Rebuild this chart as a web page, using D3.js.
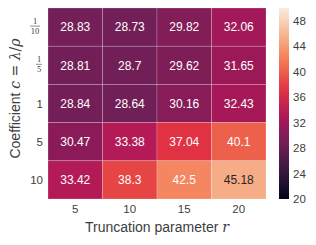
<!DOCTYPE html>
<html>
<head>
<meta charset="utf-8">
<script src="https://cdn.jsdelivr.net/npm/d3@7"></script>
<style>
  body { margin: 0; background: #fff; }
  text { font-family: "Liberation Sans", Arial, sans-serif; }
</style>
</head>
<body>
<div id="chart"></div>
<script>
// data
const rowKeys = ["1/10", "1/5", "1", "5", "10"];
const colLabels = ["5", "10", "15", "20"];
const values = [
  [28.83, 28.73, 29.82, 32.06],
  [28.81, 28.70, 29.62, 31.65],
  [28.84, 28.64, 30.16, 32.43],
  [30.47, 33.38, 37.04, 40.10],
  [33.42, 38.30, 42.50, 45.18]
];
const cbTicks = [20, 24, 28, 32, 36, 40, 44, 48];

const width = 316, height = 245;
const hm = { left: 48, top: 8, right: 266, bottom: 199 };
const cb = { left: 279, right: 289 };

const svg = d3.select("#chart").append("svg")
    .attr("width", width)
    .attr("height", height);

// rocket colormap (seaborn)
const rocketStops = ["#03051a", "#35193e", "#701f57", "#ad1759", "#e13342", "#f37651", "#f6b48f", "#faebdd"];
const rocket = d3.scaleLinear()
    .domain(rocketStops.map((d, i) => i / (rocketStops.length - 1)))
    .range(rocketStops)
    .interpolate(d3.interpolateRgb);
const vmin = 20, vmax = 50;
const color = v => rocket((v - vmin) / (vmax - vmin));

const x = d3.scaleBand().domain(colLabels).range([hm.left, hm.right]);
const y = d3.scaleBand().domain(rowKeys).range([hm.top, hm.bottom]);

// cells
const cells = [];
values.forEach((row, i) => row.forEach((v, j) => cells.push({ r: rowKeys[i], c: colLabels[j], v })));

svg.append("g").selectAll("rect")
    .data(cells)
    .enter().append("rect")
    .attr("x", d => x(d.c))
    .attr("y", d => y(d.r))
    .attr("width", x.bandwidth())
    .attr("height", y.bandwidth())
    .attr("fill", d => color(d.v))
    .attr("stroke", "rgba(255,255,255,0.35)")
    .attr("stroke-width", 0.6);

function lum(c) {
    const rgb = d3.rgb(c);
    const f = u => { u /= 255; return u <= 0.03928 ? u / 12.92 : Math.pow((u + 0.055) / 1.055, 2.4); };
    return 0.2126 * f(rgb.r) + 0.7152 * f(rgb.g) + 0.0722 * f(rgb.b);
}

svg.append("g").selectAll("text")
    .data(cells)
    .enter().append("text")
    .attr("x", d => x(d.c) + x.bandwidth() / 2)
    .attr("y", d => y(d.r) + y.bandwidth() / 2)
    .attr("text-anchor", "middle")
    .attr("dy", "0.36em")
    .attr("font-size", 12)
    .attr("fill", d => lum(color(d.v)) > 0.408 ? "#262626" : "#fff")
    .text(d => String(d.v));

// x ticks
svg.append("g").selectAll("text")
    .data(colLabels)
    .enter().append("text")
    .attr("x", d => x(d) + x.bandwidth() / 2)
    .attr("y", 209)
    .attr("dy", "0.36em")
    .attr("text-anchor", "middle")
    .attr("font-size", 11.5)
    .attr("fill", "#3d3d3d")
    .text(d => d);

const xl = svg.append("text")
    .attr("x", (hm.left + hm.right) / 2)
    .attr("y", 227)
    .attr("dy", "0.36em")
    .attr("text-anchor", "middle")
    .attr("font-size", 14)
    .attr("fill", "#3d3d3d");
xl.append("tspan").text("Truncation parameter ");
xl.append("tspan").attr("font-family", "'DejaVu Serif', serif").attr("font-style", "italic").text("r");

// y ticks
const yTicks = svg.append("g");
rowKeys.forEach(k => {
    const cy = y(k) + y.bandwidth() / 2;
    const parts = k.split("/");
    if (parts.length === 2) {
        const g = yTicks.append("g").attr("fill", "#3d3d3d");
        const cx = parts[1].length > 1 ? 35 : 39;
        const half = parts[1].length > 1 ? 5 : 3;
        g.append("text").attr("x", cx).attr("y", cy - 3.5)
            .attr("text-anchor", "middle").attr("font-size", 8.5)
            .style("font-family", "'Liberation Serif', serif").text(parts[0]);
        g.append("line").attr("x1", cx - half).attr("x2", cx + half)
            .attr("y1", cy - 1).attr("y2", cy - 1)
            .attr("stroke", "#3d3d3d").attr("stroke-width", 0.6);
        g.append("text").attr("x", cx).attr("y", cy + 6.5)
            .attr("text-anchor", "middle").attr("font-size", 8.5)
            .style("font-family", "'Liberation Serif', serif").text(parts[1]);
    } else {
        yTicks.append("text")
            .attr("x", 43)
            .attr("y", cy)
            .attr("dy", "0.36em")
            .attr("text-anchor", "end")
            .attr("font-size", 11.5)
            .attr("fill", "#3d3d3d")
            .text(k);
    }
});

const yl = svg.append("text")
    .attr("transform", `translate(15,${(hm.top + hm.bottom) / 2 - 5}) rotate(-90)`)
    .attr("dy", "0.36em")
    .attr("text-anchor", "middle")
    .attr("font-size", 14)
    .attr("fill", "#3d3d3d");
yl.append("tspan").text("Coefficient ");
yl.append("tspan").attr("font-family", "'DejaVu Serif', serif").attr("font-style", "italic").text("c");
yl.append("tspan").attr("font-family", "'DejaVu Serif', serif").text(" = ");
yl.append("tspan").attr("font-family", "'DejaVu Serif', serif").attr("font-style", "italic").text("λ");
yl.append("tspan").attr("font-family", "'DejaVu Serif', serif").text("/");
yl.append("tspan").attr("font-family", "'DejaVu Serif', serif").attr("font-style", "italic").text("ρ");

// colorbar
const cbScale = d3.scaleLinear().domain([vmin, vmax]).range([hm.bottom, hm.top]);
const defs = svg.append("defs");
const grad = defs.append("linearGradient")
    .attr("id", "cbgrad")
    .attr("x1", 0).attr("y1", 1).attr("x2", 0).attr("y2", 0);
d3.range(0, 1.0001, 0.05).forEach(t => {
    grad.append("stop").attr("offset", t).attr("stop-color", rocket(t));
});
svg.append("rect")
    .attr("x", cb.left)
    .attr("y", hm.top)
    .attr("width", cb.right - cb.left)
    .attr("height", hm.bottom - hm.top)
    .attr("fill", "url(#cbgrad)");

const cbAxis = svg.append("g")
    .attr("transform", `translate(${cb.right},0)`)
    .call(d3.axisRight(cbScale).tickValues(cbTicks).tickSize(0).tickPadding(4));
cbAxis.select(".domain").remove();
cbAxis.selectAll("text")
    .attr("font-size", 11.5)
    .attr("fill", "#3d3d3d")
    .style("font-family", "'Liberation Sans', Arial, sans-serif");
</script>
</body>
</html>
